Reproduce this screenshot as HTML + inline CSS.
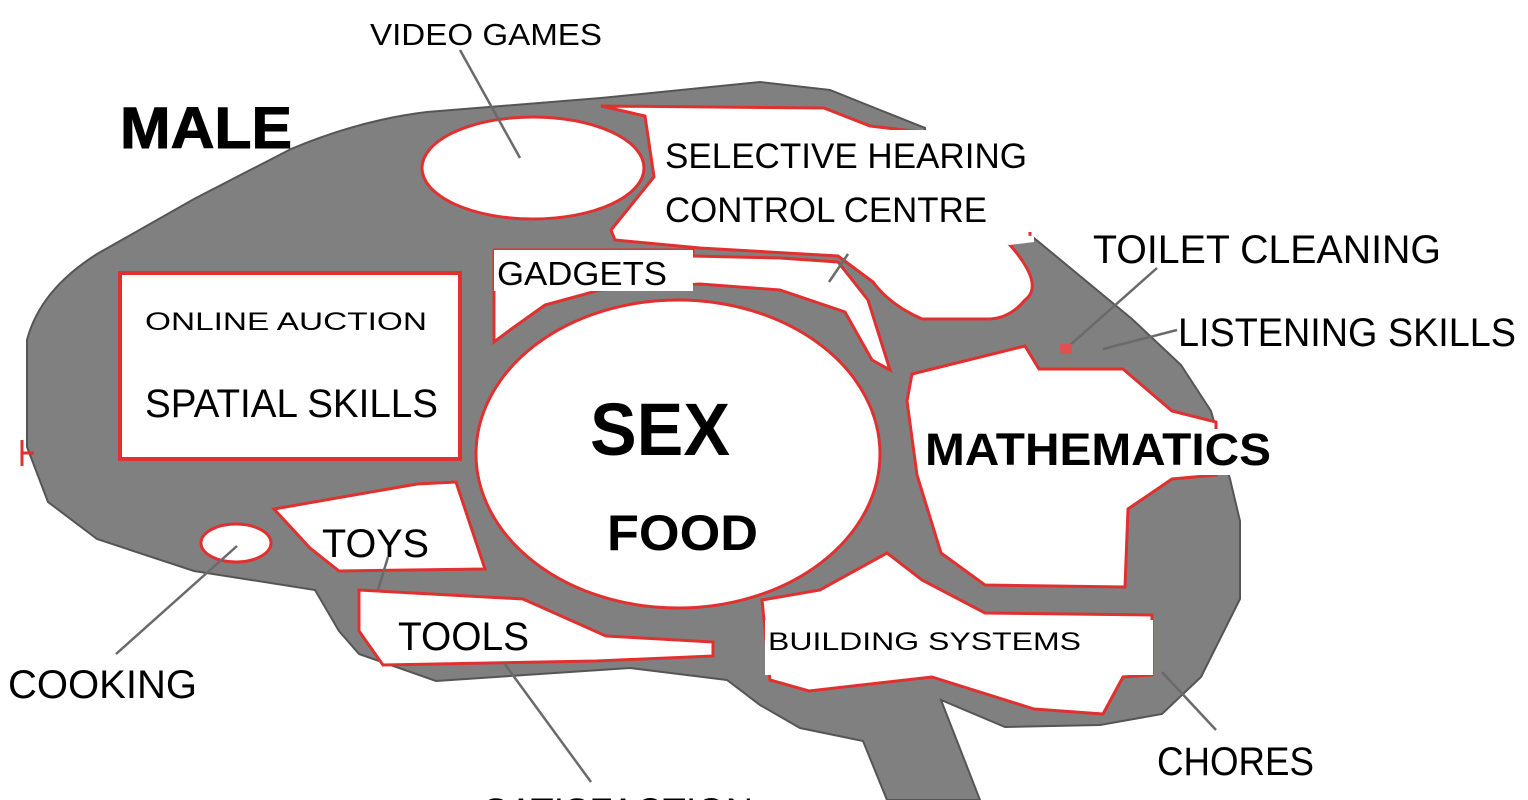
<!DOCTYPE html>
<html><head><meta charset="utf-8"><style>
html,body{margin:0;padding:0;background:#fff;}
svg{display:block;}
text{font-family:"Liberation Sans",sans-serif;fill:#000;}
</style></head><body>
<svg width="1528" height="800" viewBox="0 0 1528 800" xmlns="http://www.w3.org/2000/svg">
<!-- brain -->
<path d="M27,447 L27,340 Q40,290 97,254 L194,199 L291,149 Q360,120 427,112 L601,98 L760,82 L830,90 L880,110 L925,128 L930,235 L1034,238 L1132,319 L1181,365 L1211,411 L1230,479 L1240,521 L1240,599 L1201,677 L1162,714 L1100,725 L1005,727 L941,700 L980,800 L887,800 L863,741 L800,728 L760,705 L727,680 L630,668 L436,681 L359,654 L339,631 L315,590 L194,571 L97,539 L48,502 Z" fill="#808080" stroke="#555" stroke-width="2"/>
<!-- selective hearing white region -->
<path d="M601,106 L824,108 L870,126 L922,132 L1030,132 L1030,238 L1010,245 Q1045,285 1025,300 Q1010,318 990,319 L922,319 Q890,305 873,282 L838,256 L700,248 L615,240 L611,230 L654,177 L645,116 Z" fill="#fff" stroke="#e03030" stroke-width="3"/>
<rect x="660" y="130" width="372" height="102" fill="#fff"/>
<path d="M930,232 L1034,236 L1034,242 L1010,245 Z" fill="#fff"/>
<!-- gadgets region -->
<path d="M494,250 L693,250 L693,256 L780,258 L838,262 L868,300 L890,370 L872,360 L845,312 L780,290 L700,284 L600,290 L545,305 L510,330 L494,342 Z" fill="#fff" stroke="#e03030" stroke-width="3"/>
<rect x="494" y="250" width="199" height="41" fill="#fff"/>
<!-- video games -->
<ellipse cx="533" cy="168" rx="111" ry="51" fill="#fff" stroke="#e03030" stroke-width="3"/>
<!-- online auction box -->
<rect x="120" y="273" width="340" height="186" fill="#fff" stroke="#e03030" stroke-width="4"/>
<!-- sex ellipse -->
<ellipse cx="678" cy="454" rx="202" ry="154" fill="#fff" stroke="#e03030" stroke-width="3"/>
<!-- toys -->
<path d="M274,509 L417,484 L456,482 L485,569 L339,571 L310,548 Z" fill="#fff" stroke="#e03030" stroke-width="3"/>
<!-- cooking -->
<ellipse cx="236" cy="543" rx="35" ry="19" fill="#fff" stroke="#e03030" stroke-width="3"/>
<!-- tools -->
<path d="M359,590 L523,599 L606,636 L713,642 L713,656 L596,661 L383,665 L359,631 Z" fill="#fff" stroke="#e03030" stroke-width="3"/>
<!-- mathematics -->
<path d="M912,374 L1025,346 L1039,369 L1123,369 L1172,411 L1216,422 L1216,475 L1172,479 L1128,509 L1125,587 L985,585 L941,553 L917,475 L907,401 Z" fill="#fff" stroke="#e03030" stroke-width="3"/>
<rect x="922" y="429" width="348" height="46" fill="#fff"/>
<!-- building systems -->
<path d="M762,600 L820,590 L887,553 L922,580 L985,613 L1152,615 L1152,675 L1123,677 L1103,714 L1034,709 L932,677 L809,691 L770,680 Z" fill="#fff" stroke="#e03030" stroke-width="3"/>
<rect x="765" y="620" width="388" height="55" fill="#fff"/>
<!-- connectors -->
<g stroke="#6a6a6a" stroke-width="2.5" fill="none">
<line x1="460" y1="50" x2="520" y2="158"/>
<line x1="1157" y1="268" x2="1069" y2="346"/>
<line x1="1177" y1="330" x2="1103" y2="349"/>
<line x1="1162" y1="672" x2="1216" y2="730"/>
<line x1="237" y1="546" x2="116" y2="654"/>
<line x1="504" y1="663" x2="591" y2="782"/>
<line x1="388" y1="557" x2="378" y2="590"/>
<line x1="848" y1="254" x2="829" y2="282"/>
</g>
<rect x="1060" y="344" width="12" height="10" fill="#e05050"/>
<path d="M22,440 L22,466 M22,453 L34,453" stroke="#e03030" stroke-width="3"/>
<!-- labels -->
<text x="370" y="45" font-size="31" textLength="232" lengthAdjust="spacingAndGlyphs">VIDEO GAMES</text>
<text x="120" y="148" font-size="58" font-weight="bold" textLength="172" lengthAdjust="spacingAndGlyphs" stroke="#000" stroke-width="1">MALE</text>
<text x="665" y="168" font-size="35" textLength="362" lengthAdjust="spacingAndGlyphs">SELECTIVE HEARING</text>
<text x="665" y="222" font-size="35" textLength="322" lengthAdjust="spacingAndGlyphs">CONTROL CENTRE</text>
<text x="497" y="285" font-size="33" textLength="170" lengthAdjust="spacingAndGlyphs">GADGETS</text>
<text x="145" y="330" font-size="25" textLength="282" lengthAdjust="spacingAndGlyphs">ONLINE AUCTION</text>
<text x="145" y="417" font-size="40" textLength="293" lengthAdjust="spacingAndGlyphs">SPATIAL SKILLS</text>
<text x="590" y="455" font-size="74" font-weight="bold" textLength="140" lengthAdjust="spacingAndGlyphs">SEX</text>
<text x="607" y="550" font-size="50" font-weight="bold" textLength="151" lengthAdjust="spacingAndGlyphs">FOOD</text>
<text x="322" y="557" font-size="40" textLength="107" lengthAdjust="spacingAndGlyphs">TOYS</text>
<text x="398" y="650" font-size="40" textLength="131" lengthAdjust="spacingAndGlyphs">TOOLS</text>
<text x="8" y="698" font-size="40" textLength="189" lengthAdjust="spacingAndGlyphs">COOKING</text>
<text x="1093" y="263" font-size="40" textLength="348" lengthAdjust="spacingAndGlyphs">TOILET CLEANING</text>
<text x="1178" y="346" font-size="40" textLength="338" lengthAdjust="spacingAndGlyphs">LISTENING SKILLS</text>
<text x="925" y="465" font-size="45" font-weight="bold" textLength="346" lengthAdjust="spacingAndGlyphs">MATHEMATICS</text>
<text x="768" y="650" font-size="25" textLength="313" lengthAdjust="spacingAndGlyphs">BUILDING SYSTEMS</text>
<text x="1157" y="775" font-size="40" textLength="157" lengthAdjust="spacingAndGlyphs">CHORES</text>
<text x="483" y="826" font-size="40" textLength="270" lengthAdjust="spacingAndGlyphs">SATISFACTION</text>
</svg>
</body></html>
